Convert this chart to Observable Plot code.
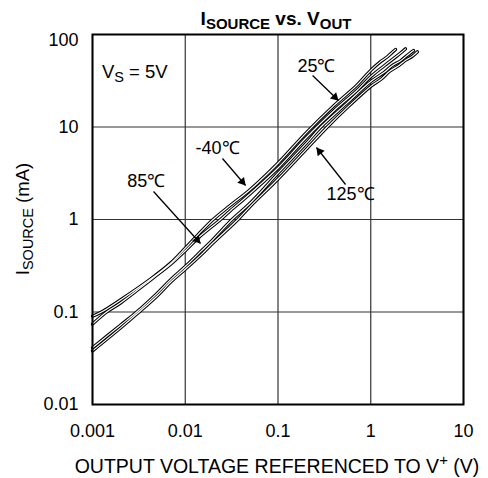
<!DOCTYPE html>
<html>
<head>
<meta charset="utf-8">
<script src="https://cdn.jsdelivr.net/npm/d3@7"></script>
<script src="https://cdn.jsdelivr.net/npm/@observablehq/plot@0.6"></script>
<style>
  html, body { margin: 0; padding: 0; background: #fff; }
  #chart { width: 488px; height: 478px; }
  svg { font-family: "Liberation Sans", Arial, sans-serif; }
</style>
</head>
<body>
<div id="chart"></div>
<script>
// ---- data ----
const xTicks = [0.001, 0.01, 0.1, 1, 10];
const yTicks = [0.01, 0.1, 1, 10];
const yTopTick = [100];

// curve 1 (top at high voltage)
const c1X = [0.001, 0.00125, 0.002, 0.0043, 0.007, 0.01, 0.014, 0.02, 0.03, 0.05, 0.1, 0.2, 0.4, 0.7, 1, 1.25, 1.5, 1.7, 1.85];
const c1Y = [0.090, 0.100, 0.135, 0.23, 0.34, 0.49, 0.70, 1.0, 1.4, 2.1, 4.06, 8.6, 17, 28, 41, 50, 57, 64, 69];
// curve 2
const c2X = [0.001, 0.00142, 0.002, 0.0043, 0.007, 0.01, 0.014, 0.024, 0.03, 0.05, 0.1, 0.2, 0.4, 0.7, 1, 1.4, 1.85, 2.1, 2.37];
const c2Y = [0.074, 0.100, 0.125, 0.225, 0.33, 0.46, 0.64, 1.0, 1.22, 1.9, 3.6, 7.6, 15, 24.5, 35, 46, 57, 63, 70];
// curve 3
const c3X = [0.001, 0.002, 0.003, 0.005, 0.0071, 0.01, 0.015, 0.02, 0.032, 0.05, 0.1, 0.2, 0.29, 0.55, 1, 1.4, 1.7, 2.1, 2.4, 2.89];
const c3Y = [0.041, 0.072, 0.100, 0.16, 0.228, 0.31, 0.46, 0.61, 1.0, 1.5, 3.17, 6.6, 10, 18, 31, 39, 46, 52, 58, 67];
// curve 4 (bottom at high voltage)
const c4X = [0.001, 0.002, 0.003, 0.005, 0.0071, 0.01, 0.015, 0.02, 0.037, 0.05, 0.1, 0.2, 0.34, 0.55, 1, 1.3, 1.6, 2.0, 2.4, 2.8, 3.19];
const c4Y = [0.038, 0.067, 0.095, 0.15, 0.215, 0.29, 0.42, 0.56, 1.0, 1.38, 2.74, 5.7, 10, 16, 27.5, 33, 40, 46, 53, 58, 65];

// temperature labels
const labelText = ["25\u2103", "-40\u2103", "85\u2103", "125\u2103"];
const labelX = [0.26, 0.0223, 0.0038, 0.605];
const labelY = [45, 5.86, 2.58, 1.86];
// arrows (tail -> tip)
const arrowX1 = [0.236, 0.0252, 0.00455, 0.535];
const arrowY1 = [36, 4.56, 2.01, 2.39];
const arrowX2 = [0.449, 0.0447, 0.0146, 0.26];
const arrowY2 = [19.3, 2.33, 0.55, 6.0];

// ---- layout ----
const W = 488, H = 478, mT = 34, mB = 74, mL = 92, mR = 25;
const xDomain = [0.001, 10], yDomain = [0.01, 100];

// ---- build tables ----
const curves = [[c1X, c1Y], [c2X, c2Y], [c3X, c3Y], [c4X, c4Y]];
const data = curves.flatMap(([xs, ys], i) => xs.map((x, j) => ({series: i, x, y: ys[j]})));
const labels = labelText.map((t, i) => ({t, x: labelX[i], y: labelY[i]}));
const arrows = arrowX1.map((x1, i) => ({x1, y1: arrowY1[i], x2: arrowX2[i], y2: arrowY2[i]}));

// standalone scales (same as the plot's) to orient the filled arrow heads
const px = Plot.scale({x: {type: "log", domain: xDomain, range: [mL, W - mR]}});
const py = Plot.scale({y: {type: "log", domain: yDomain, range: [H - mB, mT]}});
const headMarks = arrows.map(a => {
  const dx = px.apply(a.x2) - px.apply(a.x1), dy = py.apply(a.y2) - py.apply(a.y1);
  const len = Math.hypot(dx, dy), ux = dx / len, uy = dy / len;
  const back = 5;
  return Plot.dot([a], {x: "x2", y: "y2", symbol: "triangle", r: 3.3, fill: "#000", stroke: "none",
    rotate: Math.atan2(dx, -dy) * 180 / Math.PI, dx: -ux * back, dy: -uy * back});
});

const plot = Plot.plot({
  width: W,
  height: H,
  marginTop: mT,
  marginBottom: mB,
  marginLeft: mL,
  marginRight: mR,
  style: {fontFamily: "'Liberation Sans', Arial, sans-serif", fontSize: "18px", background: "#fff", color: "#000", overflow: "visible"},
  x: {type: "log", domain: xDomain},
  y: {type: "log", domain: yDomain},
  marks: [
    Plot.gridX(xTicks, {stroke: "#333", strokeOpacity: 1, strokeWidth: 1.2}),
    Plot.gridY(yTicks.concat(yTopTick), {stroke: "#333", strokeOpacity: 1, strokeWidth: 1.2}),
    Plot.axisX(xTicks, {tickSize: 0, tickPadding: 20, label: null, tickFormat: d => String(d), fontSize: 18}),
    Plot.axisY(yTicks, {tickSize: 0, tickPadding: 14, label: null, tickFormat: d => String(d), fontSize: 18}),
    Plot.axisY(yTopTick, {tickSize: 0, tickPadding: 14, label: null, tickFormat: d => String(d), fontSize: 18, dy: 6}),
    Plot.line(data, {x: "x", y: "y", z: "series", stroke: "#000", strokeWidth: 3.3, curve: "catmull-rom"}),
    Plot.line(data, {x: "x", y: "y", z: "series", stroke: "#fff", strokeWidth: 1.2, curve: "catmull-rom"}),
    Plot.frame({stroke: "#000", strokeWidth: 2}),
    Plot.link(arrows, {x1: "x1", y1: "y1", x2: "x2", y2: "y2", stroke: "#000", strokeWidth: 1.3}),
    ...headMarks,
    Plot.text(labels, {x: "x", y: "y", text: "t", fontSize: 18, fill: "#000"})
  ]
});

const svg = d3.select(plot);
const sx = plot.scale("x"), sy = plot.scale("y");

function richText(g, parts, opts) {
  const t = g.append("text")
    .attr("x", opts.x).attr("y", opts.y)
    .attr("text-anchor", opts.anchor || "middle")
    .attr("font-size", opts.size)
    .attr("font-weight", opts.weight || "normal")
    .attr("fill", "#000");
  if (opts.transform) t.attr("transform", opts.transform);
  let shift = 0;
  for (const p of parts) {
    const ts = t.append("tspan").text(p.s);
    const target = p.sub ? opts.subShift : p.sup ? -opts.supShift : 0;
    if (target !== shift) { ts.attr("dy", target - shift); shift = target; }
    if (p.sub || p.sup) ts.attr("font-size", opts.subSize);
  }
  return t;
}

const overlay = svg.append("g");
// title
richText(overlay, [{s: "I"}, {s: "SOURCE", sub: true}, {s: " vs. V"}, {s: "OUT", sub: true}],
  {x: 276, y: 25, size: 19, subSize: 15, subShift: 4, weight: "bold"});
// y label
richText(overlay, [{s: "I"}, {s: "SOURCE", sub: true}, {s: " (mA)"}],
  {x: 0, y: 0, size: 18.5, subSize: 14.5, subShift: 4, transform: "translate(29,219) rotate(-90)"});
// x label
richText(overlay, [{s: "OUTPUT VOLTAGE REFERENCED TO V"}, {s: "+", sup: true}, {s: " (V)"}],
  {x: 277, y: 473, size: 19.5, subSize: 15, supShift: 8});
// V_S annotation (placed via the data scales)
richText(overlay, [{s: "V"}, {s: "S", sub: true}, {s: " = 5V"}],
  {x: sx.apply(0.00128), y: sy.apply(38.8) + 6, size: 18.5, subSize: 14.5, subShift: 4, anchor: "start"});

document.getElementById("chart").appendChild(plot);
</script>
</body>
</html>
